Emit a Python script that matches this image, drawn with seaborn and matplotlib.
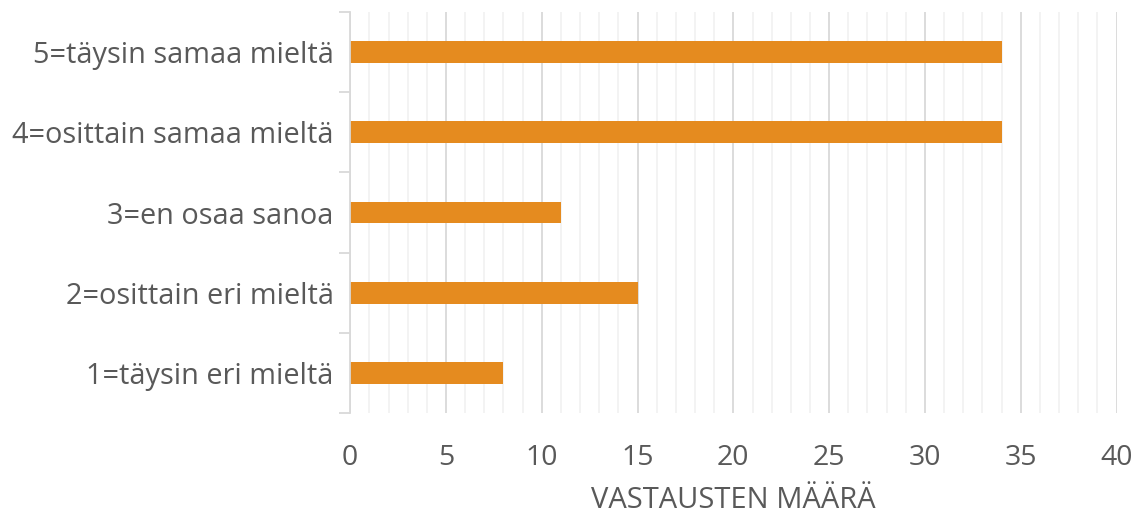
import matplotlib
matplotlib.use("Agg")
import matplotlib.pyplot as plt
import seaborn as sns
import pandas as pd
import numpy as np
from matplotlib.ticker import MultipleLocator, FixedLocator

categories = ["5=täysin samaa mieltä", "4=osittain samaa mieltä", "3=en osaa sanoa",
              "2=osittain eri mieltä", "1=täysin eri mieltä"]
values = [34, 34, 11, 15, 8]
xlabel = "VASTAUSTEN MÄÄRÄ"

sns.set_theme(style="white")
plt.rcParams['font.family'] = ['Open Sans', 'DejaVu Sans']

df = pd.DataFrame({"cat": categories, "val": values})

fig = plt.figure(figsize=(11.37, 5.14), dpi=100)
ax = fig.add_axes([0.308, 0.196, 0.674, 0.781])

sns.barplot(data=df, y="cat", x="val", order=categories, color="#E58B1F",
            saturation=1, width=0.27, ax=ax, edgecolor="none")

ax.set_xlim(0, 40)
ax.set_ylim(len(categories) - 0.5, -0.5)
ax.xaxis.set_major_locator(MultipleLocator(5))
ax.xaxis.set_minor_locator(MultipleLocator(1))
ax.grid(axis="x", which="major", color="#D9D9D9", linewidth=1.3)
ax.grid(axis="x", which="minor", color="#F2F2F2", linewidth=1.3)
ax.set_axisbelow(True)

for s in ["top", "right", "bottom"]:
    ax.spines[s].set_visible(False)
ax.spines["left"].set_color("#D9D9D9")
ax.spines["left"].set_linewidth(1.3)

ax.yaxis.set_minor_locator(FixedLocator(np.arange(-0.5, len(categories), 1.0)))
ax.tick_params(axis="y", which="major", length=0, pad=12, labelsize=20.8, labelcolor="#595959")
ax.tick_params(axis="y", which="minor", left=True, length=8, color="#D9D9D9", width=1.3)
ax.tick_params(axis="x", which="both", length=0, pad=22, labelsize=20.5, labelcolor="#595959")

ax.set_ylabel("")
ax.set_xlabel(xlabel, fontsize=21, color="#595959", labelpad=10)

fig.savefig("out.png", dpi=100)
